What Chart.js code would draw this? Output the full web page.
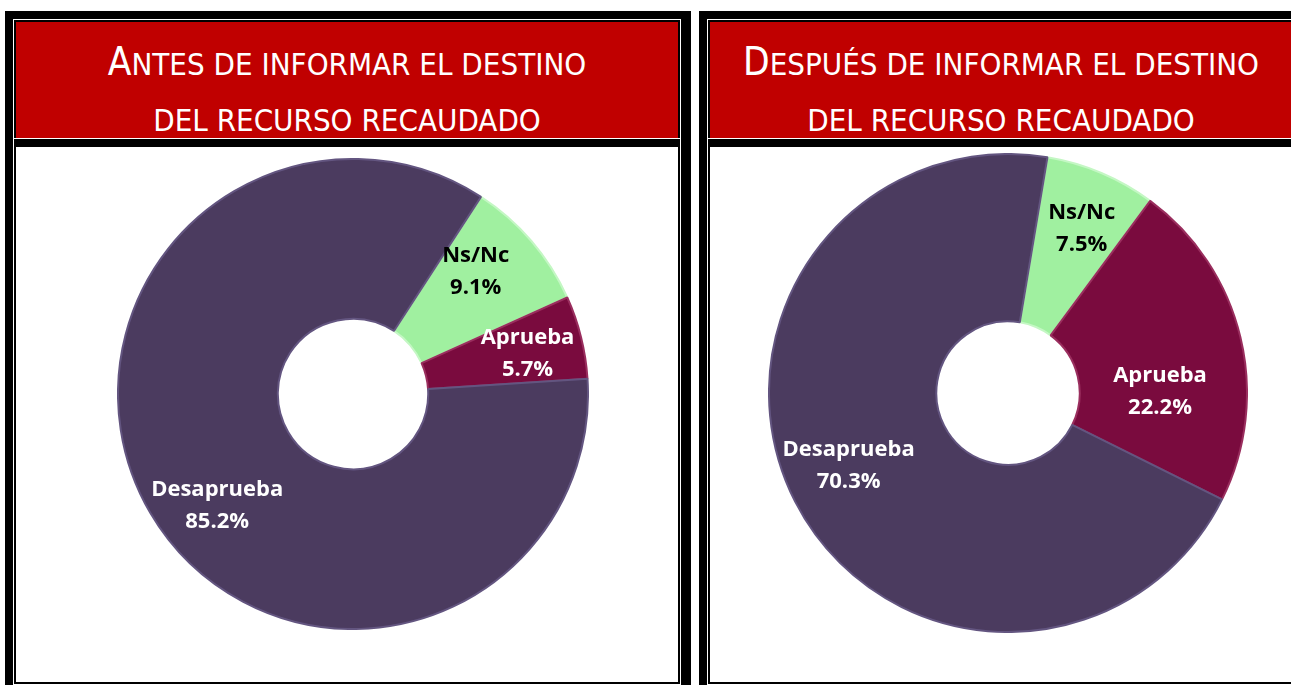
<!DOCTYPE html>
<html>
<head>
<meta charset="utf-8">
<script src="https://cdn.jsdelivr.net/npm/chart.js@4"></script>
<style>
  body { margin: 0; width: 1291px; height: 685px; overflow: hidden; background: #fff; position: relative;
         font-family: "DejaVu Sans Condensed", "DejaVu Sans", sans-serif; }
  .frame { position: absolute; background: #000; }
  .head { position: absolute; background: #c00000; border: 2px solid #000; border-bottom: 0;
          outline: 1px solid #fff; box-sizing: border-box; }
  .body { position: absolute; background: #fff; border: 2px solid #000; border-top: 8px solid #000;
          outline: 1px solid #fff; box-sizing: border-box; }
  .ttl { position: absolute; text-align: center; color: #fff; font-size: 31px; line-height: 40px; white-space: nowrap; }
  .ttl span { font-size: 38.5px; }
  canvas { position: absolute; }
</style>
</head>
<body>
  <!-- left panel -->
  <div class="frame" style="left:5px;top:11px;width:686px;height:690px"></div>
  <div class="head" style="left:14px;top:20px;width:666px;height:118px"></div>
  <div class="body" style="left:14px;top:139px;width:666px;height:545px"></div>
  <div class="ttl" style="left:16px;width:662px;top:42px"><span>A</span>NTES DE INFORMAR EL DESTINO</div>
  <div class="ttl" style="left:16px;width:662px;top:100px">DEL RECURSO RECAUDADO</div>
  <canvas id="chartAntes" width="472" height="472" style="left:117px;top:158px"></canvas>

  <!-- right panel -->
  <div class="frame" style="left:699px;top:11px;width:604px;height:690px"></div>
  <div class="head" style="left:708px;top:20px;width:586px;height:118px"></div>
  <div class="body" style="left:708px;top:139px;width:586px;height:545px"></div>
  <div class="ttl" style="left:710px;width:582px;top:42px"><span>D</span>ESPUÉS DE INFORMAR EL DESTINO</div>
  <div class="ttl" style="left:710px;width:582px;top:100px">DEL RECURSO RECAUDADO</div>
  <canvas id="chartDespues" width="480" height="480" style="left:768px;top:153px"></canvas>

<script>
const sliceLabels = ["Ns/Nc", "Aprueba", "Desaprueba"];
const antesValues = [9.1, 5.7, 85.2];
const despuesValues = [7.5, 22.2, 70.3];

const sliceColors = ["#a0f0a0", "#7a0b3e", "#4b3b5f"];
const sliceEdges = ["#c4f7c4", "#9a2e5e", "#635580"];
const labelColors = ["#000000", "#ffffff", "#ffffff"];

// draws "name / value%" inside each slice, from the arc geometry
function labelPlugin(nudges) {
  return {
    id: "sliceLabels",
    afterDatasetsDraw(chart) {
      const ctx = chart.ctx;
      const meta = chart.getDatasetMeta(0);
      const values = chart.data.datasets[0].data;
      ctx.save();
      ctx.font = 'bold 22px "Open Sans"';
      ctx.textAlign = "center";
      ctx.textBaseline = "middle";
      meta.data.forEach((arc, i) => {
        const p = arc.getProps(["x", "y", "startAngle", "endAngle", "innerRadius", "outerRadius"], true);
        const mid = (p.startAngle + p.endAngle) / 2;
        const r = (p.innerRadius + p.outerRadius) / 2;
        const x = p.x + Math.cos(mid) * r + nudges[i][0];
        const y = p.y + Math.sin(mid) * r + nudges[i][1];
        ctx.fillStyle = labelColors[i];
        ctx.fillText(chart.data.labels[i], x, y - 16);
        ctx.fillText(values[i].toFixed(1) + "%", x, y + 16);
      });
      ctx.restore();
    }
  };
}

function donut(id, values, rotation, cutout, nudges) {
  const ctx = document.getElementById(id).getContext("2d");
  return new Chart(ctx, {
    type: "doughnut",
    data: {
      labels: sliceLabels,
      datasets: [{
        data: values,
        backgroundColor: sliceColors,
        borderColor: sliceEdges,
        borderWidth: 2
      }]
    },
    options: {
      responsive: false,
      animation: false,
      rotation: rotation,
      cutout: cutout,
      layout: { padding: 0 },
      plugins: { legend: { display: false }, tooltip: { enabled: false } }
    },
    plugins: [labelPlugin(nudges)]
  });
}

donut("chartAntes", antesValues, 33, "32%", [[5, -21], [24, -3], [-2, 33]]);
donut("chartDespues", despuesValues, 9.5, "30%", [[13, -21], [1, 35], [-21, 2]]);
</script>
</body>
</html>
